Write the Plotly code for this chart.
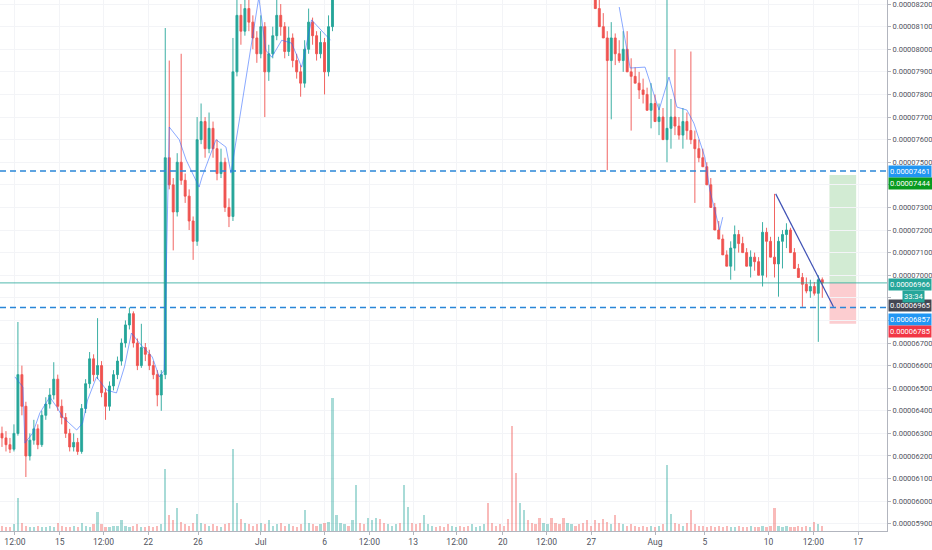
import plotly.graph_objects as go

# prices in units of 1e-8 (6966 -> 0.00006966)
opens = [
    6300, 6280, 6250, 6230, 6300, 6560, 6420, 6200, 6270, 6320,
    6250, 6380, 6430, 6470, 6540, 6420, 6370, 6300, 6240, 6260,
    6220, 6410, 6520, 6630, 6560, 6600, 6480, 6420, 6510, 6560,
    6620, 6700, 6780, 6830, 6700, 6600, 6680, 6650, 6600, 6560,
    6470, 6560, 7520, 7400, 7280, 7500, 7420, 7350, 7240, 7150,
    7600, 7680, 7560, 7650, 7560, 7450, 7500, 7300, 7260, 7900,
    8150, 8080, 8180, 8120, 8050, 7980, 8100, 7900, 7980, 8060,
    8150, 8100, 7990, 8050, 7950, 7900, 7850, 8000, 8120, 8060,
    7980, 8030, 7900, 8100, 8300, 8420, 8500, 8560, 8480, 8600,
    8700, 8650, 8580, 8620, 8700, 8760, 8690, 8640, 8720, 8800,
    8850, 8780, 8900, 8960, 8880, 8820, 8760, 8800, 8860, 8920,
    8870, 8800, 8740, 8690, 8750, 8820, 8780, 8720, 8680, 8740,
    8800, 8900, 9000, 8950, 8870, 8800, 8760, 8700, 8650, 8600,
    8560, 8620, 8680, 8640, 8580, 8520, 8480, 8540, 8600, 8560,
    8500, 8460, 8420, 8480, 8520, 8460, 8400, 8360, 8320, 8280,
    8180, 8100, 8050, 7950, 8050, 7980, 7950, 8000, 7900, 7880,
    7850, 7820, 7800, 7730, 7760, 7680, 7700, 7600, 7650, 7700,
    7660, 7620, 7680, 7640, 7600, 7560, 7520, 7480, 7400, 7300,
    7200, 7160, 7090, 7040, 7120, 7180, 7140, 7100, 7040, 7080,
    7060, 7000, 7190, 7150, 7080, 7050, 7150, 7180, 7200, 7100,
    7030, 6990, 6960, 6930, 6950, 6920, 6980,
]
highs = [
    6330, 6310, 6280, 6340, 6793, 6600, 6440, 6300, 6360, 6340,
    6400, 6460, 6500, 6615, 6560, 6450, 6390, 6320, 6300, 6280,
    6430, 6540, 6660, 6650, 6810, 6620, 6500, 6530, 6580, 6640,
    6720, 6800, 6857, 6840, 6720, 6785, 6700, 6670, 6620, 6580,
    6580, 8094, 7950, 7430, 7540, 7980, 7450, 7380, 7260, 7700,
    7760, 7700, 7720, 7680, 7600, 7560, 7520, 7340, 8050, 8260,
    8200, 8250, 8230, 8150, 8080, 8150, 8120, 8020, 8100, 8240,
    8200, 8120, 8100, 8070, 7980, 7930, 8040, 8180, 8140, 8080,
    8080, 8050, 8150, 8400, 8460, 8540, 8600, 8600, 8640, 8740,
    8740, 8690, 8660, 8740, 8800, 8800, 8730, 8760, 8840, 8890,
    8890, 8940, 9000, 9000, 8920, 8860, 8840, 8900, 8960, 8960,
    8910, 8840, 8780, 8790, 8860, 8860, 8820, 8760, 8780, 8840,
    8940, 9040, 9040, 8990, 8910, 8840, 8800, 8740, 8690, 8640,
    8660, 8720, 8720, 8680, 8620, 8560, 8580, 8640, 8640, 8600,
    8540, 8500, 8520, 8560, 8560, 8500, 8440, 8400, 8360, 8300,
    8220, 8160, 8080, 8120, 8070, 8040, 8080, 8080, 7960, 7920,
    7900, 7870, 7830, 7850, 7800, 7760, 7740, 8230, 7780, 8000,
    7700, 7740, 7720, 7990, 7640, 7600, 7560, 7500, 7430, 7320,
    7240, 7180, 7110, 7150, 7220, 7200, 7170, 7120, 7110, 7100,
    7080, 7235, 7210, 7170, 7360, 7170, 7200, 7230, 7210, 7120,
    7050, 7010, 6990, 6980, 6970, 7000, 6990,
]
lows = [
    6240, 6220, 6213, 6220, 6290, 6380, 6107, 6180, 6250, 6230,
    6240, 6360, 6410, 6450, 6400, 6340, 6280, 6220, 6220, 6205,
    6210, 6390, 6500, 6530, 6540, 6460, 6360, 6400, 6490, 6540,
    6600, 6680, 6760, 6680, 6580, 6590, 6620, 6580, 6540, 6420,
    6400, 6540, 7380, 7110, 7260, 7400, 7320, 7200, 7068, 7130,
    7580, 7520, 7540, 7520, 7420, 7430, 7280, 7213, 7240, 7880,
    8020, 8060, 8080, 8000, 7940, 7960, 7700, 7860, 7960, 8040,
    8060, 7960, 7970, 7920, 7870, 7790, 7830, 7980, 8020, 7950,
    7960, 7800, 7880, 8080, 8260, 8380, 8460, 8440, 8440, 8560,
    8610, 8540, 8540, 8580, 8660, 8650, 8600, 8600, 8680, 8760,
    8740, 8740, 8860, 8840, 8780, 8720, 8720, 8760, 8820, 8830,
    8760, 8700, 8650, 8650, 8710, 8740, 8680, 8640, 8640, 8700,
    8760, 8860, 8910, 8830, 8760, 8720, 8660, 8610, 8560, 8520,
    8520, 8580, 8600, 8540, 8480, 8440, 8440, 8500, 8520, 8460,
    8420, 8380, 8380, 8440, 8420, 8360, 8320, 8280, 8240, 8240,
    8120, 8060, 7465, 7690, 7930, 7940, 7900, 7930, 7640, 7850,
    7780, 7760, 7740, 7650, 7700, 7620, 7640, 7500, 7560, 7620,
    7600, 7560, 7600, 7580, 7320, 7500, 7480, 7440, 7360, 7260,
    7160, 7120, 7040, 6980, 7020, 7100, 7100, 7060, 6990, 7020,
    7010, 6950, 6990, 7120, 6990, 6905, 7030, 7120, 7150, 7080,
    7000, 6860, 6920, 6900, 6910, 6705, 6900, 6940,
]
closes = [
    6280, 6250, 6230, 6300, 6560, 6420, 6200, 6270, 6320, 6250,
    6380, 6430, 6470, 6540, 6420, 6370, 6300, 6240, 6260, 6220,
    6410, 6520, 6630, 6560, 6600, 6480, 6420, 6510, 6560, 6620,
    6700, 6780, 6830, 6700, 6600, 6680, 6650, 6600, 6560, 6470,
    6560, 7520, 7400, 7280, 7500, 7420, 7350, 7240, 7150, 7600,
    7680, 7560, 7650, 7560, 7450, 7500, 7300, 7260, 7900, 8150,
    8080, 8180, 8120, 8050, 7980, 8100, 7900, 7980, 8060, 8150,
    8100, 7990, 8050, 7950, 7900, 7850, 8000, 8120, 8060, 7980,
    8030, 7900, 8100, 8300, 8420, 8500, 8560, 8480, 8600, 8700,
    8650, 8580, 8620, 8700, 8760, 8690, 8640, 8720, 8800, 8850,
    8780, 8900, 8960, 8880, 8820, 8760, 8800, 8860, 8920, 8870,
    8800, 8740, 8690, 8750, 8820, 8780, 8720, 8680, 8740, 8800,
    8900, 9000, 8950, 8870, 8800, 8760, 8700, 8650, 8600, 8560,
    8620, 8680, 8640, 8580, 8520, 8480, 8540, 8600, 8560, 8500,
    8460, 8420, 8480, 8520, 8460, 8400, 8360, 8320, 8280, 8180,
    8100, 8050, 7950, 8050, 7980, 7950, 8000, 7900, 7880, 7850,
    7820, 7800, 7730, 7760, 7680, 7700, 7600, 7650, 7700, 7660,
    7620, 7680, 7640, 7600, 7560, 7520, 7480, 7400, 7300, 7200,
    7160, 7090, 7040, 7120, 7180, 7140, 7100, 7040, 7080, 7060,
    7000, 7190, 7150, 7080, 7050, 7150, 7180, 7200, 7100, 7030,
    6990, 6960, 6930, 6950, 6920, 6980, 6966,
]
volumes = [
    4, 3, 3, 5, 25, 6, 4, 3, 3, 4,
    3, 3, 4, 3, 6, 4, 3, 3, 4, 3,
    6, 4, 3, 5, 14, 5, 3, 3, 4, 4,
    8, 4, 3, 4, 5, 3, 3, 4, 3, 4,
    5, 47, 12, 8, 17, 7, 5, 4, 6, 13,
    6, 5, 4, 5, 4, 3, 5, 6, 62, 21,
    9, 6, 5, 4, 5, 6, 5, 8, 4, 5,
    6, 4, 5, 4, 3, 5, 16, 6, 5, 4,
    5, 6, 7, 100, 12, 6, 5, 4, 8, 35,
    6, 5, 10, 8, 10, 9, 6, 5, 4, 5,
    6, 35, 18, 6, 5, 6, 12, 5, 4, 3,
    4, 3, 5, 4, 3, 4, 3, 4, 5, 3,
    4, 5, 21, 6, 4, 5, 4, 9, 79, 44,
    21, 16, 8, 6, 5, 10, 6, 5, 10, 6,
    5, 10, 6, 5, 4, 5, 6, 8, 4, 8,
    6, 9, 7, 5, 12, 6, 5, 4, 5, 4,
    3, 4, 3, 4, 3, 4, 5, 50, 13, 6,
    5, 4, 6, 16, 5, 4, 4, 3, 4, 3,
    4, 3, 4, 3, 3, 4, 3, 3, 4, 3,
    3, 4, 3, 4, 17, 4, 3, 4, 3, 3,
    4, 3, 4, 3, 7, 5, 4,
]

# thin moving-average line (bar index, value); None = break
ma_x = [3.25, 5.25, 5.75, 7.75, 9.5, 12, 13.75, 15.25, 18.75, 20.25,
        21.5, 23.75, 26.25, 28.75, 30.75, 32.5, 34.5, 37.75, 39.5, 40.75,
        42, 44.5, 46.25, 49.5, 50.25, 53.75, 56.25, 57.5, 64.5, 66.25,
        67.75, 70.25, 72.75, 75.25, 77.75, 80.25, 82.5, None,
        155, 157.75, 161.5, 165, 167.5, 169.5, 172, 173.75, 176.5, 177.75,
        180.25, 181]
ma_y = [6550, 6505, 6257, 6302, 6390, 6461, 6417, 6372, 6315, 6346,
        6448, 6550, 6492, 6479, 6594, 6744, 6700, 6638, 6550, 6580,
        7656, 7600, 7510, 7390, 7435, 7600, 7567, 7452, 8230, 7996,
        7965, 8040, 8027, 7921, 8130, 8085, 8040, None,
        8187, 7917, 7921, 7731, 7877, 7744, 7731, 7673, 7523, 7377,
        7200, 7257]

# date labels on the time axis (bar index -> label)
tick_pos = [3.25, 14.5, 25.5, 36.75, 49.25, 65, 81, 92.25, 103.25, 114.25,
            125.75, 136.75, 148, 164, 176.5, 192.5, 203.75, 215]
tick_text = ["12:00", "15", "12:00", "22", "26", "Jul", "6", "12:00", "13",
             "12:00", "20", "12:00", "27", "Aug", "5", "10", "12:00", "17"]

price_ticks = [5900, 6000, 6100, 6200, 6300, 6400, 6500, 6600, 6700, 6800,
               6900, 7000, 7100, 7200, 7300, 7400, 7500, 7600, 7700, 7800,
               7900, 8000, 8100, 8200]
hidden_ticks = [6800, 6900, 7400]   # covered by the price tags

# drawings
levels = [7461, 6857]
last_price = 6966
trend_x = [194.3, 208.8]
trend_y = [7360, 6860]
pos_x = [207.8, 214.5]
pos_entry, pos_target, pos_stop = 6966, 7444, 6785

SC = 1e-8
UP, DOWN = "#26a69a", "#ef5350"

x = list(range(len(closes)))
vol_colors = ["rgba(38,166,154,0.4)" if c >= o else "rgba(239,83,80,0.4)"
              for o, c in zip(opens, closes)]

fig = go.Figure()

fig.add_trace(go.Bar(
    x=x, y=volumes, yaxis="y2", marker=dict(color=vol_colors, line=dict(width=0)),
    width=0.55, showlegend=False, hoverinfo="skip",
))

fig.add_trace(go.Candlestick(
    x=x,
    open=[v * SC for v in opens],
    high=[v * SC for v in highs],
    low=[v * SC for v in lows],
    close=[v * SC for v in closes],
    increasing=dict(line=dict(color=UP, width=0.9), fillcolor=UP),
    decreasing=dict(line=dict(color=DOWN, width=0.9), fillcolor=DOWN),
    whiskerwidth=0, showlegend=False,
))

fig.add_trace(go.Scatter(
    x=ma_x, y=[v * SC if v is not None else None for v in ma_y], mode="lines",
    line=dict(color="rgba(41,98,255,0.55)", width=1), connectgaps=False,
    showlegend=False, hoverinfo="skip",
))

# trend line
fig.add_trace(go.Scatter(
    x=trend_x, y=[v * SC for v in trend_y], mode="lines",
    line=dict(color="#3f51b5", width=1.2), showlegend=False, hoverinfo="skip",
))

shapes = []
# long position box
shapes.append(dict(type="rect", xref="x", yref="y", x0=pos_x[0], x1=pos_x[1],
                   y0=pos_entry * SC, y1=pos_target * SC,
                   fillcolor="rgba(76,175,80,0.25)", line=dict(width=0), layer="below"))
shapes.append(dict(type="rect", xref="x", yref="y", x0=pos_x[0], x1=pos_x[1],
                   y0=pos_stop * SC, y1=pos_entry * SC,
                   fillcolor="rgba(242,54,69,0.25)", line=dict(width=0), layer="below"))
for lv in levels:
    shapes.append(dict(type="line", xref="paper", yref="y", x0=0, x1=1,
                       y0=lv * SC, y1=lv * SC,
                       line=dict(color="#2a86d8", width=1.6, dash="6px,4px")))
shapes.append(dict(type="line", xref="paper", yref="y", x0=0, x1=1,
                   y0=last_price * SC, y1=last_price * SC,
                   line=dict(color="rgba(38,166,154,0.8)", width=1)))

# price scale labels: (value, text, colour, shift in px)
tags = [
    (7461, "0.00007461", "#2196f3", 0),
    (7444, "0.00007444", "#089b1f", -9),
    (6966, "0.00006966", "#26a69a", -2),
    (6965, "0.00006965", "#434651", -22),
    (6857, "0.00006857", "#2196f3", -12),
    (6785, "0.00006785", "#f23645", -8),
]
annotations = []
for val, txt, col, sh in tags:
    annotations.append(dict(
        xref="paper", yref="y", x=1, y=val * SC, xanchor="left", yanchor="middle",
        xshift=1, yshift=sh, text=txt, showarrow=False, bgcolor=col,
        font=dict(color="white", size=7.5, family="Roboto"), borderpad=1,
    ))
annotations.append(dict(
    xref="paper", yref="y", x=1, y=last_price * SC, xanchor="left", yanchor="middle",
    xshift=15, yshift=-14, text="33:34", showarrow=False, bgcolor="#26a69a",
    font=dict(color="white", size=7.5, family="Roboto"), borderpad=1,
))

fig.update_layout(
    width=932, height=550,
    margin=dict(l=0, r=41, t=0, b=19),
    paper_bgcolor="white", plot_bgcolor="white",
    font=dict(family="Roboto", size=8, color="#50535e"),
    showlegend=False,
    shapes=shapes, annotations=annotations,
    bargap=0,
    xaxis=dict(
        range=[-0.5, 222.25], rangeslider=dict(visible=False),
        tickmode="array", tickvals=tick_pos, ticktext=tick_text,
        showgrid=True, gridcolor="#f3f4f7", gridwidth=1,
        showline=True, linecolor="#b2b5be", linewidth=1,
        ticks="outside", ticklen=3, tickcolor="#b2b5be",
        tickfont=dict(size=8.5, color="#50535e"), zeroline=False,
    ),
    yaxis=dict(
        side="right", range=[5868 * SC, 8218 * SC],
        tickmode="array", tickvals=[v * SC for v in price_ticks],
        ticktext=["" if v in hidden_ticks else "0.0000%d" % v for v in price_ticks],
        showgrid=True, gridcolor="#f3f4f7", gridwidth=1,
        showline=True, linecolor="#b2b5be", linewidth=1,
        ticks="outside", ticklen=3, tickcolor="#b2b5be",
        tickfont=dict(size=7.5, color="#50535e"), zeroline=False,
        ticklabeloverflow="allow",
    ),
    yaxis2=dict(overlaying="y", range=[0, 400], visible=False),
)

fig.write_html("out.html", config={"displayModeBar": False},
               post_script="document.body.style.margin='0';")
